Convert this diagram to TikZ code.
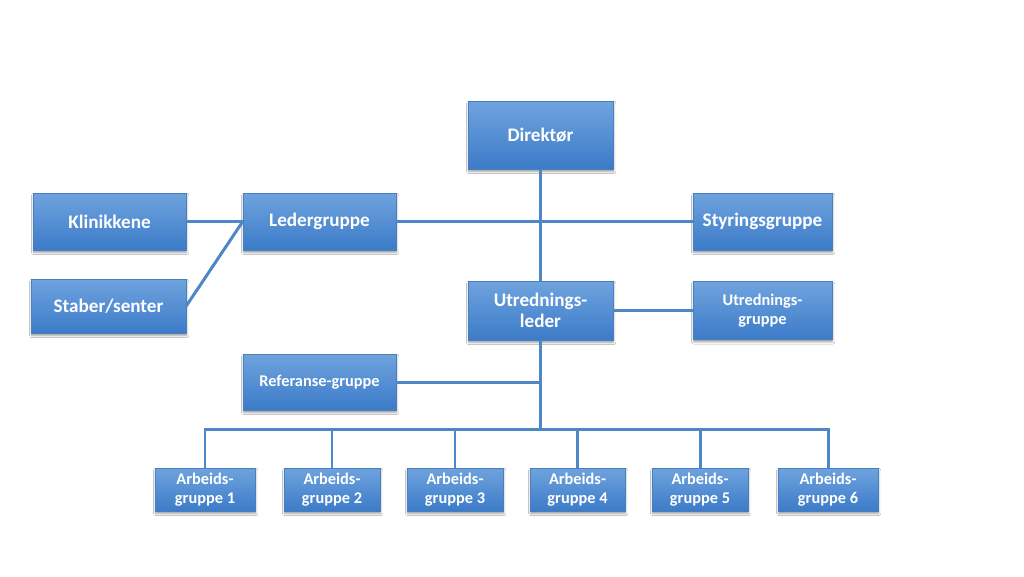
\documentclass[tikz,border=0pt]{standalone}
\usepackage{fontspec}
\setmainfont{Carlito}
\usetikzlibrary{shadows.blur}
\definecolor{boxtop}{HTML}{6FA3DE}
\definecolor{boxbot}{HTML}{3C7BC8}
\definecolor{boxline}{HTML}{4A7FBF}
\definecolor{conn}{HTML}{4F86C6}
\tikzset{
  box/.style={rectangle, top color=boxtop, bottom color=boxbot, draw=boxline, line width=0.3pt,
    text=white, font=\bfseries\fontsize{10.9}{12}\selectfont, align=center, inner sep=0pt,
    blur shadow={shadow xshift=0.4pt, shadow yshift=-1.4pt, shadow blur radius=1.2pt, shadow blur steps=5, shadow opacity=40}},
  sbox/.style={box, font=\bfseries\fontsize{9.3}{11.2}\selectfont},
  link/.style={draw=conn, line width=1.7pt},
}
\begin{document}
\begin{tikzpicture}[x=0.02cm, y=-0.02cm]
\useasboundingbox (0,0) rectangle (1024,576);
\fill[white] (0,0) rectangle (1024,576);
\node[box, minimum width=2.9cm, minimum height=1.36cm] (dir) at (540.5,135) {Direktør};
\node[box, minimum width=3.06cm, minimum height=1.14cm] (klin) at (109.5,221.5) {Klinikkene};
\node[box, minimum width=3.06cm, minimum height=1.14cm] (led) at (319.5,221.5) {Ledergruppe};
\node[box, minimum width=2.78cm, minimum height=1.14cm] (sty) at (762.5,221.5) {Styringsgruppe};
\node[box, minimum width=3.1cm, minimum height=1.08cm] (stab) at (108.5,306) {Staber/senter};
\node[box, minimum width=2.9cm, minimum height=1.18cm] (utl) at (540.5,310.5) {Utrednings-\\leder};
\node[sbox, minimum width=2.78cm, minimum height=1.16cm] (utg) at (762.5,310.5) {Utrednings-\\gruppe};
\node[sbox, minimum width=3.06cm, minimum height=1.12cm] (ref) at (319.5,382) {Referanse-gruppe};
\node[sbox, minimum width=2.0cm, minimum height=0.86cm] (a1) at (205,489.5) {Arbeids-\\gruppe 1};
\node[sbox, minimum width=1.92cm, minimum height=0.86cm] (a2) at (332,489.5) {Arbeids-\\gruppe 2};
\node[sbox, minimum width=1.92cm, minimum height=0.86cm] (a3) at (455,489.5) {Arbeids-\\gruppe 3};
\node[sbox, minimum width=1.9cm, minimum height=0.86cm] (a4) at (577.5,489.5) {Arbeids-\\gruppe 4};
\node[sbox, minimum width=1.92cm, minimum height=0.86cm] (a5) at (700,489.5) {Arbeids-\\gruppe 5};
\node[sbox, minimum width=2.0cm, minimum height=0.86cm] (a6) at (828,489.5) {Arbeids-\\gruppe 6};
\coordinate (busc) at (540.5,429);
\coordinate (refj) at (540.5,382);
\draw[link] (klin.east) -- (led.west);
\draw[link] (stab.east) -- (led.west);
\draw[link] (led.east) -- (sty.west);
\draw[link] (dir.south) -- (utl.north);
\draw[link] (utl.east) -- (utg.west);
\draw[link] (utl.south) -- (busc);
\draw[link] (ref.east) -- (refj);
\draw[link, line cap=rect] (a1.north) |- (busc) -| (a6.north);
\draw[link] (a2.north) -- (a2.north |- busc);
\draw[link] (a3.north) -- (a3.north |- busc);
\draw[link] (a4.north) -- (a4.north |- busc);
\draw[link] (a5.north) -- (a5.north |- busc);
\end{tikzpicture}
\end{document}
